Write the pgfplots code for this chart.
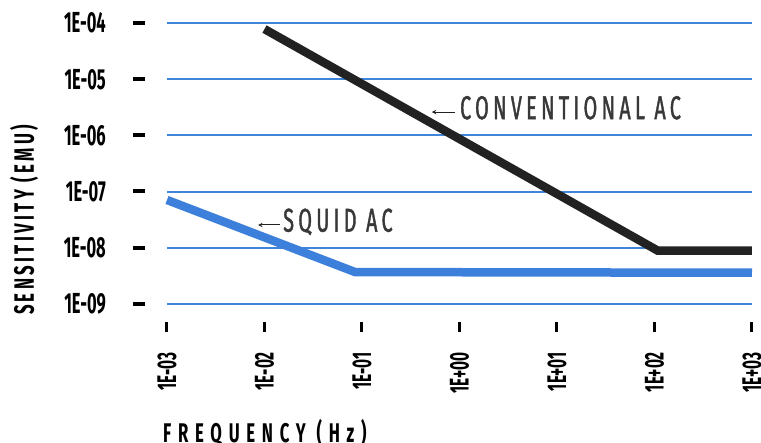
\documentclass[border=0pt]{standalone}
\usepackage{fontspec}
\usepackage{pgfplots}
\pgfplotsset{compat=1.18}
\setmainfont{Fira Sans}
\newfontfamily\tickf{Fira Sans}[FakeStretch=0.57]
\newfontfamily\labf{Fira Sans}[FakeStretch=0.62, LetterSpace=25]
\newfontfamily\ylabf{Fira Sans}[FakeStretch=0.6, LetterSpace=12]
\newfontfamily\annf{Fira Sans}[FakeStretch=0.6, LetterSpace=13, FakeBold=1.2]
\definecolor{gridc}{HTML}{3F86DA}
\definecolor{squid}{HTML}{3C80DC}
\definecolor{conv}{HTML}{222222}
\newcommand\ylab[1]{{\fontsize{29}{29}\selectfont\tickf\bfseries #1}\hspace*{27pt}\rule[8pt]{12pt}{4pt}}
\newcommand\xlab[1]{{\fontsize{27}{27}\selectfont\tickf\bfseries #1}\hspace*{20pt}\rule[7.8pt]{10pt}{3pt}}
\begin{document}
\begin{tikzpicture}
\path[use as bounding box] (-167pt,-139pt) rectangle (594pt,304pt);
\begin{axis}[
  at={(0,0)}, anchor=south west,
  scale only axis, width=585pt, height=281pt,
  xmode=log, ymode=log,
  xmin=1e-3, xmax=1e3, ymin=1e-9, ymax=1e-4,
  axis lines=left, axis line style={-, draw=none, opacity=0},
  major tick length=0pt, minor tick length=0pt, tick style={draw=none},
  minor xtick={}, minor ytick={},
  xtick={1e-3,1e-2,1e-1,1e0,1e1,1e2,1e3},
  xticklabels={\xlab{1E-03},\xlab{1E-02},\xlab{1E-01},\xlab{1E+00},\xlab{1E+01},\xlab{1E+02},\xlab{1E+03}},
  ytick={1e-9,1e-8,1e-7,1e-6,1e-5,1e-4},
  yticklabels={\ylab{1E-09},\ylab{1E-08},\ylab{1E-07},\ylab{1E-06},\ylab{1E-05},\ylab{1E-04}},
  xticklabel style={rotate=90, anchor=east, inner sep=0pt},
  yticklabel style={anchor=east, inner sep=0pt},
  xticklabel shift=18pt, yticklabel shift=22pt,
  ymajorgrids, xmajorgrids=false,
  major grid style={draw=gridc, line width=2pt},
  clip=false,
  xlabel={\fontsize{27}{27}\selectfont\labf\bfseries FREQUENCY (Hz)},
  xlabel style={at={(axis description cs:0,0)}, anchor=base west, xshift=-4pt, yshift=-138pt, inner sep=0pt},
  ylabel={\fontsize{28}{28}\selectfont\ylabf\bfseries SENSITIVITY (EMU)},
  ylabel style={at={(axis description cs:-0.2444,0.299)}, anchor=center, inner sep=0pt},
]
\addplot[conv, line width=8.5pt, line join=miter] coordinates {(0.01,7.8e-5) (108,8.9e-9) (1000,8.9e-9)};
\addplot[squid, line width=8.5pt, line join=miter] coordinates {(0.001,7.1e-8) (0.085,3.7e-9) (1000,3.6e-9)};
\node[anchor=west, inner sep=0pt, text=conv!90] at (axis cs:1.01,3.1e-6) {\fontsize{33}{33}\selectfont\annf CONVENTIONAL AC};
\draw[-stealth, line width=1pt, conv] (axis cs:0.9,2.6e-6) -- (axis cs:0.52,2.6e-6);
\node[anchor=west, inner sep=0pt, text=conv!90] at (axis cs:0.0155,2.9e-8) {\fontsize{33}{33}\selectfont\annf SQUID AC};
\draw[-stealth, line width=1pt, conv] (axis cs:0.0145,2.55e-8) -- (axis cs:0.0086,2.55e-8);
\end{axis}
\end{tikzpicture}
\end{document}
